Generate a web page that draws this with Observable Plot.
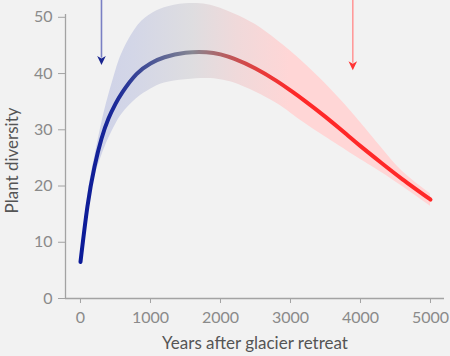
<!DOCTYPE html>
<html>
<head>
<meta charset="utf-8">
<script src="https://cdn.jsdelivr.net/npm/d3@7"></script>
<script src="https://cdn.jsdelivr.net/npm/@observablehq/plot@0.6"></script>
<style>
  html, body { margin: 0; padding: 0; background: #f2f2f2; }
  #chart svg { display: block; }
</style>
</head>
<body>
<div id="chart"></div>
<script>
const years     = [0, 100, 200, 300, 400, 500, 600, 800, 1000, 1200, 1500, 1800, 2000, 2200, 2500, 2800, 3000, 3200, 3500, 3800, 4000, 4300, 4600, 5000];
const diversity = [6.5, 16.4, 23.4, 28.4, 32.0, 34.6, 36.7, 39.9, 41.8, 42.9, 43.7, 43.8, 43.4, 42.6, 40.9, 38.7, 37.0, 35.2, 32.3, 29.2, 27.1, 24.1, 21.2, 17.6];
const upper     = [6.9, 18.0, 25.0, 31.0, 36.0, 40.3, 43.8, 48.2, 50.5, 51.7, 52.4, 52.3, 51.6, 50.6, 48.7, 46.0, 44.0, 41.8, 38.2, 34.2, 31.3, 26.8, 22.6, 18.6];
const lower     = [6.1, 15.3, 21.5, 25.3, 28.4, 30.9, 32.9, 35.5, 37.2, 38.3, 38.9, 39.1, 38.9, 38.3, 36.7, 34.7, 33.0, 31.2, 28.7, 26.3, 24.7, 22.4, 19.9, 16.4];
const xTicks = [0, 1000, 2000, 3000, 4000, 5000];
const yTicks = [0, 10, 20, 30, 40, 50];
const arrowYears = [300, 3890];
const arrowTop = 53;
const arrowTip = [41.5, 40.6];
const arrowShaftColors = ["#7a80c4", "#ff9a9a"];
const arrowHeadColors = ["#1a2690", "#ff3535"];
const xLabel = "Years after glacier retreat";
const yLabel = "Plant diversity";

const series = years.map((t, i) => ({year: t, d: diversity[i], lo: lower[i], hi: upper[i]}));
const arrows = arrowYears.map((t, i) => ({year: t, top: arrowTop, tip: arrowTip[i], shaft: arrowShaftColors[i], head: arrowHeadColors[i]}));

const headSymbol = {
  draw(ctx, size) {
    ctx.moveTo(-4.3, -9);
    ctx.lineTo(0, -6.5);
    ctx.lineTo(4.3, -9);
    ctx.lineTo(0, 0);
    ctx.closePath();
  }
};

const font = "Lato, 'Open Sans', sans-serif";

const plot = Plot.plot({
  width: 450,
  height: 356,
  marginLeft: 65,
  marginRight: 6,
  marginTop: 14,
  marginBottom: 58,
  style: {background: "#f2f2f2", fontFamily: font, fontSize: "16px", overflow: "visible"},
  x: {domain: [-214, 5200]},
  y: {domain: [0, 50.5]},
  marks: [
    Plot.areaY(series, {x: "year", y1: "lo", y2: "hi", fill: "url(#bandGrad)", curve: "natural"}),
    Plot.line(series, {x: "year", y: "d", stroke: "url(#lineGrad)", strokeWidth: 4, curve: "natural", strokeLinecap: "round"}),
    Plot.ruleX(arrows, {x: "year", y1: "top", y2: "tip", stroke: "shaft", strokeWidth: 1.6, dy: -7}),
    Plot.dot(arrows, {x: "year", y: "tip", symbol: headSymbol, fill: "head", stroke: "none", r: 4}),
    Plot.ruleY([0], {stroke: "#a3a3a3", strokeWidth: 1.3}),
    Plot.ruleX([-214], {stroke: "#a3a3a3", strokeWidth: 1.3}),
    Plot.axisX(xTicks, {tickSize: 5, tickPadding: 8, stroke: "#a3a3a3", fill: "#8a8a8a", label: null, fontSize: 16, tickFormat: d => String(d)}),
    Plot.axisY(yTicks, {tickSize: 7, tickPadding: 6, stroke: "#a3a3a3", fill: "#8a8a8a", label: null, fontSize: 16, tickFormat: d => String(d)}),
    Plot.text([xLabel], {frameAnchor: "bottom", dy: 50, fill: "#555", fontSize: 17, textAnchor: "middle", text: d => d}),
    Plot.text([yLabel], {frameAnchor: "left", dx: -53, dy: 4, rotate: -90, fill: "#555", fontSize: 17, textAnchor: "middle", text: d => d})
  ]
});

const xs = plot.scale("x");
const x0 = xs.apply(0), x1 = xs.apply(5000);
const svg = d3.select(plot.tagName.toLowerCase() === "svg" ? plot : plot.querySelector("svg"));
const defs = svg.insert("defs", ":first-child");
const lg = defs.append("linearGradient").attr("id", "lineGrad").attr("gradientUnits", "userSpaceOnUse")
  .attr("x1", x0).attr("x2", x1).attr("y1", 0).attr("y2", 0);
[[0, "#0b1a98"], [0.1, "#1c2a98"], [0.2, "#4a5596"], [0.32, "#878792"], [0.42, "#bb5a5c"], [0.52, "#e83a3a"], [0.62, "#ff2828"], [1, "#ff2828"]]
  .forEach(([o, c]) => lg.append("stop").attr("offset", o).attr("stop-color", c));
const bg = defs.append("linearGradient").attr("id", "bandGrad").attr("gradientUnits", "userSpaceOnUse")
  .attr("x1", x0).attr("x2", x1).attr("y1", 0).attr("y2", 0);
[[0, "#cdd1e8"], [0.15, "#d3d6e7"], [0.32, "#dedde0"], [0.45, "#f0d9da"], [0.6, "#ffd6d6"], [1, "#ffd6d6"]]
  .forEach(([o, c]) => bg.append("stop").attr("offset", o).attr("stop-color", c));

document.getElementById("chart").appendChild(plot);
</script>
</body>
</html>
